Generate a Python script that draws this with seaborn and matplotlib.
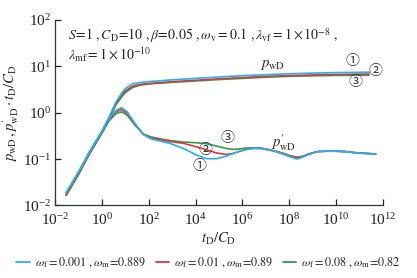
import numpy as np
import pandas as pd
import matplotlib
matplotlib.use("Agg")
import matplotlib.pyplot as plt
import seaborn as sns

# tD/CD grid for the derivative curves
t_deriv = [0.03, 0.1, 0.3, 1, 2, 4, 7, 12, 25, 60, 120, 300, 800, 3e3, 1.2e4, 3e4,
           8e4, 2e5, 4e5, 8e5, 1.6e6, 3e6, 6e6, 1.6e7, 3e7, 6e7, 1.2e8, 2.2e8, 4e8,
           6e8, 1.6e9, 4e9, 1e10, 2.5e10, 6e10, 2e11, 5e11]

deriv_1 = [0.0191, 0.0525, 0.145, 0.398, 0.741, 1.122, 1.288, 1.047, 0.603, 0.339,
           0.275, 0.245, 0.219, 0.170, 0.120, 0.102, 0.102, 0.115, 0.132, 0.148,
           0.162, 0.170, 0.170, 0.155, 0.141, 0.126, 0.110, 0.100, 0.112, 0.123,
           0.145, 0.148, 0.148, 0.145, 0.138, 0.132, 0.129]
deriv_2 = [0.0174, 0.049, 0.138, 0.380, 0.708, 1.047, 1.175, 0.977, 0.575, 0.339,
           0.288, 0.263, 0.240, 0.219, 0.182, 0.158, 0.135, 0.126, 0.132, 0.148,
           0.166, 0.170, 0.170, 0.155, 0.145, 0.129, 0.115, 0.107, 0.115, 0.126,
           0.145, 0.148, 0.148, 0.145, 0.138, 0.132, 0.129]
deriv_3 = [0.0166, 0.0468, 0.132, 0.363, 0.661, 0.955, 1.047, 0.891, 0.550, 0.347,
           0.302, 0.275, 0.251, 0.234, 0.224, 0.214, 0.191, 0.170, 0.162, 0.166,
           0.174, 0.174, 0.174, 0.158, 0.145, 0.132, 0.117, 0.110, 0.115, 0.126,
           0.145, 0.148, 0.148, 0.145, 0.138, 0.132, 0.129]

# tD/CD grid for the pressure curves
t_press = [0.03, 0.1, 0.3, 1, 2, 4, 7, 10, 20, 40, 100, 1e3, 1e4, 1e5, 1e6, 1e7,
           1e8, 1e9, 1e10, 2.6e11]
press_1 = [0.0191, 0.0525, 0.145, 0.398, 0.794, 1.70, 2.63, 3.31, 4.17, 4.47, 4.68,
           5.13, 5.50, 5.89, 6.31, 6.61, 6.92, 7.16, 7.33, 7.50]
press_2 = [0.0174, 0.049, 0.138, 0.380, 0.759, 1.58, 2.40, 2.95, 3.72, 4.07, 4.27,
           4.68, 5.01, 5.37, 5.75, 6.10, 6.31, 6.53, 6.68, 6.84]
press_3 = [0.0166, 0.0468, 0.132, 0.363, 0.724, 1.48, 2.19, 2.69, 3.47, 3.89, 4.17,
           4.52, 4.84, 5.19, 5.50, 5.82, 6.10, 6.24, 6.38, 6.46]

case_labels = [r"$\omega_{\rm f}=0.001\ ,\omega_{\rm m}\!=\!0.889$",
               r"$\omega_{\rm f}=0.01\ ,\omega_{\rm m}\!=\!0.89$",
               r"$\omega_{\rm f}=0.08\ ,\omega_{\rm m}\!=\!0.82$"]
case_colors = ["#22b2ee", "#e2343c", "#2f9f4c"]

sns.set_theme(style="ticks")
plt.rcParams["font.family"] = ["Liberation Serif", "DejaVu Serif"]
plt.rcParams["mathtext.fontset"] = "stix"
plt.rcParams["axes.linewidth"] = 0.9

fig = plt.figure(figsize=(4.17, 2.78), dpi=100)
ax = fig.add_axes([0.132, 0.261, 0.786, 0.667])

derivs = [deriv_1, deriv_2, deriv_3]
presses = [press_1, press_2, press_3]
for i in [2, 1, 0]:
    d = pd.DataFrame({"t": t_deriv, "v": derivs[i]})
    p = pd.DataFrame({"t": t_press, "v": presses[i]})
    sns.lineplot(data=p, x="t", y="v", ax=ax, color=case_colors[i], lw=1.2,
                 estimator=None, sort=False)
    sns.lineplot(data=d, x="t", y="v", ax=ax, color=case_colors[i], lw=1.2,
                 estimator=None, sort=False)

ax.set_xscale("log")
ax.set_yscale("log")
ax.set_xlim(1e-2, 1e12)
ax.set_ylim(1e-2, 1e2)
ax.set_xticks([10.0 ** k for k in range(-2, 13, 2)])
ax.set_yticks([10.0 ** k for k in range(-2, 3)])
ax.minorticks_off()
ax.tick_params(direction="in", length=4, width=0.9, labelsize=11, colors="#222222")
ax.tick_params(axis="x", pad=5)
ax.tick_params(axis="y", pad=3)
sns.despine(ax=ax)
ax.spines["left"].set_color("#333333")
ax.spines["bottom"].set_color("#333333")

ax.set_xlabel(r"$t_{\rm D}/C_{\rm D}$", fontsize=10.5, labelpad=2)
ax.set_ylabel(r"$p_{\rm wD}\,,p^{\prime}_{\rm wD}\cdot t_{\rm D}/C_{\rm D}$", fontsize=10.5,
              labelpad=1)

ax.text(0.04, 0.965,
        r"$S\!=\!1\ ,C_{\rm D}\!=\!10\ ,\beta\!=\!0.05\ ,\omega_{\rm v}=0.1\ ,\lambda_{\rm vf}=1\times10^{-8}\ ,$",
        transform=ax.transAxes, fontsize=10, va="top", ha="left")
ax.text(0.04, 0.86, r"$\lambda_{\rm mf}=1\times10^{-10}$",
        transform=ax.transAxes, fontsize=10, va="top", ha="left")

ax.text(2e7, 10.5, r"$p_{\rm wD}$", fontsize=10.5, ha="center", va="center")
ax.text(6e7, 0.23, r"$p^{\prime}_{\rm wD}$", fontsize=10.5, ha="center", va="center")

circ = ["Noto Sans CJK SC", "DejaVu Sans"]
marks = [("①", 5e10, 13.0), ("②", 5e11, 7.9), ("③", 6.6e10, 4.6),
         ("③", 2.2e5, 0.28), ("②", 2.6e4, 0.16), ("①", 1.5e4, 0.072)]
for s, x, y in marks:
    ax.text(x, y, s, family=circ, fontsize=10, ha="center", va="center", color="#333333")

leg_handles = [plt.Line2D([], [], color=c, lw=1.3) for c in case_colors]
fig.legend(leg_handles, case_labels, loc="lower center", ncol=3, frameon=False,
           fontsize=8.7, handlelength=1.1, handletextpad=0.4, columnspacing=0.8,
           bbox_to_anchor=(0.5, -0.01))

fig.savefig("out.png", dpi=100)
